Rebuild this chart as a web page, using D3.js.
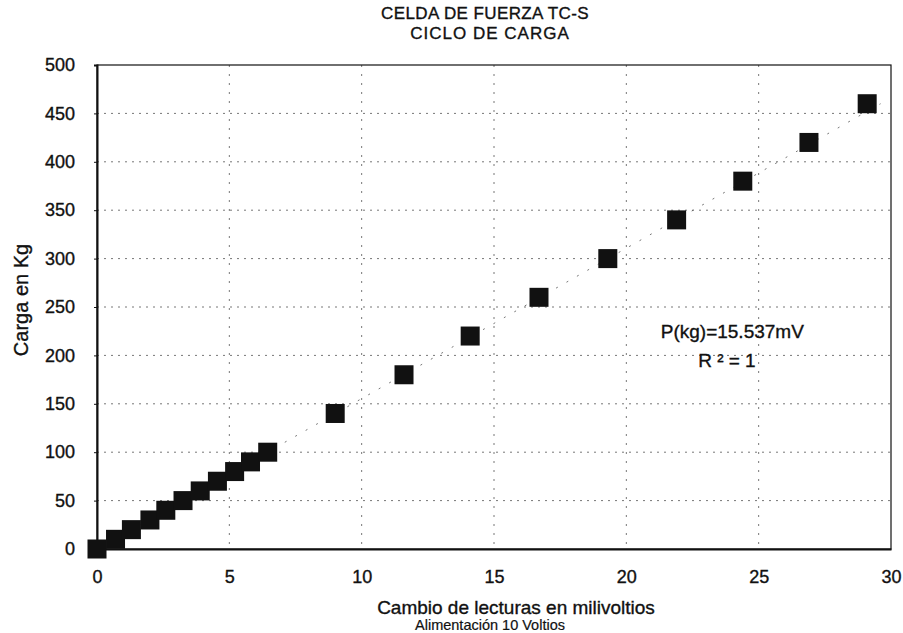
<!DOCTYPE html>
<html>
<head>
<meta charset="utf-8">
<script src="https://cdn.jsdelivr.net/npm/d3@7"></script>
<style>
  body { margin: 0; background: #fff; }
  text { font-family: Arial, "Liberation Sans", sans-serif; fill: #111; stroke: #111; stroke-width: 0.35px; }
</style>
</head>
<body>
<svg id="chart" width="903" height="633"></svg>
<script>
// readings: change in millivolts vs load in kg (loading cycle)
const milivoltios = [0, 0.7, 1.3, 2.0, 2.6, 3.25, 3.9, 4.55, 5.2, 5.8, 6.45, 9.0, 11.6, 14.1, 16.7, 19.3, 21.9, 24.4, 26.9, 29.1];
const cargaKg = [0, 10, 20, 30, 40, 50, 60, 70, 80, 90, 100, 140, 180, 220, 260, 300, 340, 380, 420, 460];
const xTicks = [0, 5, 10, 15, 20, 25, 30];
const yTicks = [0, 50, 100, 150, 200, 250, 300, 350, 400, 450, 500];
const pendiente = 15.537;

const svg = d3.select("#chart"),
    width = +svg.attr("width"),
    height = +svg.attr("height");

const margin = { top: 65, right: 12, bottom: 84, left: 97 },
    plotW = width - margin.left - margin.right,
    plotH = height - margin.top - margin.bottom;

const x = d3.scaleLinear().domain([0, 30]).range([0, plotW]);
const y = d3.scaleLinear().domain([0, 500]).range([plotH, 0]);

const g = svg.append("g")
    .attr("transform", "translate(" + margin.left + "," + margin.top + ")");

// dotted grid
g.append("g")
    .selectAll("line")
    .data(yTicks.slice(1, -1))
    .join("line")
    .attr("x1", 0).attr("x2", plotW)
    .attr("y1", d => y(d)).attr("y2", d => y(d))
    .attr("stroke", "#777")
    .attr("stroke-width", 1)
    .attr("stroke-dasharray", "2,5");

g.append("g")
    .selectAll("line")
    .data(xTicks.slice(1, -1))
    .join("line")
    .attr("x1", d => x(d)).attr("x2", d => x(d))
    .attr("y1", 0).attr("y2", plotH)
    .attr("stroke", "#777")
    .attr("stroke-width", 1)
    .attr("stroke-dasharray", "2,7");

// plot frame
g.append("rect")
    .attr("width", plotW).attr("height", plotH)
    .attr("fill", "none")
    .attr("stroke", "#111")
    .attr("stroke-width", 1.2);

// axes
const yAxis = g.append("g")
    .call(d3.axisLeft(y).tickValues(yTicks).tickSize(3).tickPadding(19));
const xAxis = g.append("g")
    .attr("transform", "translate(0," + plotH + ")")
    .call(d3.axisBottom(x).tickValues(xTicks).tickSize(0).tickPadding(21));

[yAxis, xAxis].forEach(a => {
    a.select(".domain").attr("stroke", "#111").attr("stroke-width", 2);
    a.selectAll(".tick line").attr("stroke", "#111");
    a.selectAll(".tick text")
        .style("font-family", "Arial, 'Liberation Sans', sans-serif")
        .style("font-size", "18px")
        .attr("fill", "#111");
});

// trend line (faint)
g.append("line")
    .attr("x1", x(0)).attr("y1", y(0))
    .attr("x2", x(460 / pendiente)).attr("y2", y(460))
    .attr("stroke", "#555")
    .attr("stroke-width", 0.8)
    .attr("stroke-dasharray", "2,10");

// data squares
const datos = milivoltios.map((v, i) => ({ mv: v, kg: cargaKg[i] }));
const lado = 19;
g.append("g")
    .selectAll("rect")
    .data(datos)
    .join("rect")
    .attr("x", d => x(d.mv) - lado / 2)
    .attr("y", d => y(d.kg) - lado / 2)
    .attr("width", lado)
    .attr("height", lado)
    .attr("fill", "#111");

// equation label
g.append("text")
    .attr("x", x(21.3)).attr("y", y(218))
    .attr("text-anchor", "start")
    .style("font-size", "19px")
    .text("P(kg)=15.537mV");
g.append("text")
    .attr("x", x(23.8)).attr("y", y(188))
    .attr("text-anchor", "middle")
    .style("font-size", "19px")
    .text("R ² = 1");

// titles
svg.append("text")
    .attr("x", 485).attr("y", 19)
    .attr("text-anchor", "middle")
    .style("font-size", "17px")
    .style("letter-spacing", "0.4px")
    .text("CELDA DE FUERZA TC-S");
svg.append("text")
    .attr("x", 490).attr("y", 39)
    .attr("text-anchor", "middle")
    .style("font-size", "17px")
    .style("letter-spacing", "1px")
    .text("CICLO DE CARGA");

svg.append("text")
    .attr("x", 516).attr("y", 614)
    .attr("text-anchor", "middle")
    .style("font-size", "19px")
    .text("Cambio de lecturas en milivoltios");
svg.append("text")
    .attr("x", 490).attr("y", 630)
    .attr("text-anchor", "middle")
    .style("font-size", "14.5px")
    .style("stroke-width", "0.2px")
    .text("Alimentación 10 Voltios");

svg.append("text")
    .attr("transform", "translate(28,300) rotate(-90)")
    .attr("text-anchor", "middle")
    .style("font-size", "20px")
    .text("Carga en Kg");
</script>
</body>
</html>
